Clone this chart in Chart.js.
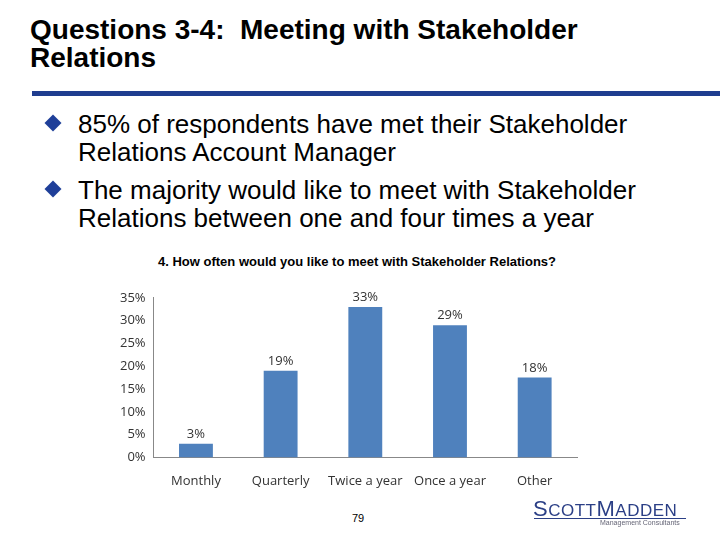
<!DOCTYPE html>
<html><head><meta charset="utf-8">
<script src="https://cdn.jsdelivr.net/npm/chart.js@4"></script>
<style>
body{margin:0;width:720px;height:540px;background:#fff;position:relative;overflow:hidden;font-family:"Liberation Sans",Arial,sans-serif;}
.abs{position:absolute;}
#title{left:30px;top:16px;font-size:28px;font-weight:bold;line-height:28px;color:#000;}
#rule{left:32px;top:91px;width:688px;height:5px;background:#1F3D8F;}
.bul{left:78px;font-size:26px;line-height:28px;color:#000;white-space:nowrap;}
.dia{width:12px;height:12px;background:#1F3F99;transform:rotate(45deg);left:47px;}
#ctitle{left:0;width:714px;text-align:center;top:254px;font-size:13px;font-weight:bold;}
#wrap{left:117px;top:287px;width:470px;height:210px;}
#pg{left:352px;top:512px;font-size:11px;}
#logo{left:533px;top:496px;font-size:22px;color:#2B3F86;letter-spacing:0.5px;}
#logo .s{font-size:17px;}
#logoline{left:534px;top:518px;width:152px;height:1px;background:#2B3F86;}
#sub{left:600px;top:519px;font-size:7px;color:#667;}
</style></head><body>
<div class="abs" id="title">Questions 3-4:&nbsp; Meeting with Stakeholder<br>Relations</div>
<div class="abs" id="rule"></div>
<div class="abs dia" style="top:117px"></div>
<div class="abs bul" style="top:110px">85% of respondents have met their Stakeholder<br>Relations Account Manager</div>
<div class="abs dia" style="top:183px"></div>
<div class="abs bul" style="top:176px">The majority would like to meet with Stakeholder<br>Relations between one and four times a year</div>
<div class="abs" id="ctitle">4. How often would you like to meet with Stakeholder Relations?</div>
<div class="abs" id="wrap"><canvas id="c"></canvas></div>
<div class="abs" id="pg">79</div>
<div class="abs" id="logo">S<span class="s">COTT</span>M<span class="s">ADDEN</span></div>
<div class="abs" id="logoline"></div>
<div class="abs" id="sub">Management Consultants</div>
<script>
const categories=["Monthly","Quarterly","Twice a year","Once a year","Other"];
const values=[3,19,33,29,17.5];
const valueLabels=["3%","19%","33%","29%","18%"];
const yTicks=[0,5,10,15,20,25,30,35];
const labelPlugin={id:"lbl",afterDatasetsDraw(ch){
 const ctx=ch.ctx,meta=ch.getDatasetMeta(0);
 ctx.save();ctx.font="13px 'Open Sans', sans-serif";ctx.fillStyle="#333";ctx.textAlign="center";ctx.textBaseline="bottom";
 meta.data.forEach((b,i)=>{ctx.fillText(valueLabels[i],b.x,b.y-3);});
 ctx.restore();}};
new Chart(document.getElementById("c"),{type:"bar",
data:{labels:categories,datasets:[{data:values,backgroundColor:"#4F81BD",barPercentage:0.4,categoryPercentage:1}]},
options:{responsive:true,maintainAspectRatio:false,animation:false,
layout:{padding:{top:10,right:10}},
plugins:{legend:{display:false},tooltip:{enabled:false}},
scales:{y:{min:0,max:35,afterBuildTicks(s){s.ticks=yTicks.map(v=>({value:v}));},
 grid:{display:false,drawTicks:true,tickLength:5},border:{color:"#888"},
 ticks:{color:"#333",font:{size:13,family:"'Open Sans', sans-serif"},callback:v=>v+"%"}},
x:{grid:{display:false},border:{color:"#888"},ticks:{color:"#333",padding:8,font:{size:13,family:"'Open Sans', sans-serif"}}}}},
plugins:[labelPlugin]});
</script></body></html>
